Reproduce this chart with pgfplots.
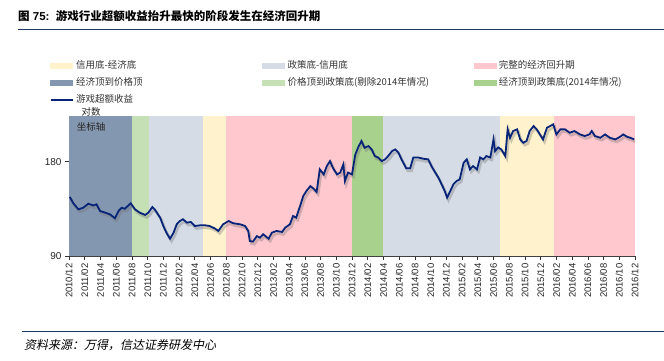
\documentclass[border=0pt]{standalone}
\usepackage{fontspec}
\setmainfont{Liberation Sans}
\newfontfamily\cjk{Noto Sans CJK SC}
\newfontfamily\cjkit[FakeSlant=0.2]{Noto Sans CJK SC}
\usepackage{pgfplots}
\usepackage{pgfplotstable}
\pgfplotsset{compat=1.18}
\definecolor{cYellow}{RGB}{255,242,204}
\definecolor{cGrayBlue}{RGB}{214,220,229}
\definecolor{cPink}{RGB}{255,199,206}
\definecolor{cDark}{RGB}{132,151,176}
\definecolor{cLGreen}{RGB}{197,224,180}
\definecolor{cGreen}{RGB}{169,209,142}
\definecolor{cLine}{RGB}{8,36,120}
\definecolor{cRule}{RGB}{31,56,100}

\pgfplotstableread{
m v
0.1 139
0.55 132.6
1.2 126.8
1.8 128.3
2.46 132.2
3.1 130.5
3.5 131.6
3.95 125.3
4.6 123.8
5.2 122.3
5.85 118.8
6.3 125.3
6.7 128.3
7.1 127.4
7.55 130.5
7.85 132.6
8.4 126.8
9.0 123.8
9.7 121.7
10.1 123.8
10.6 129
10.9 126.8
11.6 119.3
12.0 112.2
12.4 106.8
12.85 102.2
13.3 106.8
13.7 113.6
14.1 116.4
14.5 117.9
15.0 115.0
15.5 115.6
16.0 112.2
16.7 112.8
17.3 112.8
17.9 112.2
18.6 110
19.0 108.2
19.6 113.6
20.3 116.4
20.9 114.5
21.8 113.6
22.4 112.2
22.8 108.2
23.0 100.5
23.4 100
23.9 104.2
24.3 103
24.7 105.6
25.4 102.2
25.8 106.8
26.4 108.2
27.1 107.4
27.5 110.8
28.1 113.6
28.5 120.8
28.9 119.3
29.4 130
29.8 139.9
30.2 145.1
30.7 150.5
31.1 147.8
31.5 144.1
31.9 170.2
32.4 164
32.8 174.4
33.2 180.9
33.6 171.6
34.1 164
34.5 166.2
34.9 176.6
35.1 156.2
35.5 166.2
36.0 164
36.4 189
36.8 200.5
37.2 209.6
37.6 199.5
38.1 202
38.5 197.1
38.9 187.7
39.3 185.8
39.8 180.9
40.2 183.2
40.6 187.7
41.1 194.7
41.5 197.1
41.9 192.7
42.3 183.2
42.9 171.6
43.4 171.6
43.8 185.8
44.4 185.8
45.1 184
45.7 183.2
46.1 174.4
46.6 166.2
47.0 160
47.4 152.5
47.8 145.1
48.1 138.2
48.5 145.1
48.9 152.5
49.3 156.2
49.7 158.1
50.2 178.7
50.6 183.2
51.0 170.2
51.4 174.4
51.9 170.2
52.3 185.8
52.7 183.2
53.1 187.7
53.6 185.8
54.0 212.1
54.2 194.7
54.6 200
55.0 197
55.5 187.7
55.8 228.4
56.1 214.7
56.5 225.6
57.0 228.4
57.4 212.1
57.8 207
58.2 209.6
58.6 225.6
59.1 234
59.5 228.4
59.9 220.1
60.3 212.1
60.8 231.1
61.2 234
61.6 237
62.0 220.1
62.5 228.4
63.1 228.4
63.7 222.8
64.3 225.6
65.0 220.1
65.6 217.5
66.2 220.1
66.5 225.6
66.9 217.5
67.6 214.7
68.2 220.1
68.8 214.7
69.5 212.1
70.1 216.3
70.5 220.1
71.0 216.3
71.4 214.7
71.9 212.1
}\gamedata

\begin{document}
\begin{tikzpicture}
\useasboundingbox (0,0) rectangle (664pt,360pt);
% title
\node[anchor=west, inner sep=0pt] at (18pt,343.5pt) {\fontsize{11.5}{13}\selectfont\bfseries{\cjk 图} 75:\ \ {\cjk 游戏行业超额收益抬升最快的阶段发生在经济回升期}};
\draw[cRule, line width=1.8pt] (18pt,330.5pt) -- (664pt,330.5pt);
\draw[cRule, line width=1.8pt] (22pt,28.5pt) -- (664pt,28.5pt);
\node[anchor=west, inner sep=0pt] at (24pt,15pt) {\cjkit\fontsize{12}{14}\selectfont 资料来源：万得，信达证券研发中心};

\begin{axis}[
  at={(69pt,104pt)}, anchor=south west,
  scale only axis, width=566pt, height=140pt,
  xmin=0, xmax=72, ymode=log, ymin=90, ymax=252,
  ytick={90,180}, yticklabels={90,180},
  yminorticks=false,
  xtick={0,2,...,72},
  xticklabels={{2010/12},{2011/02},{2011/04},{2011/06},{2011/08},{2011/10},{2011/12},{2012/02},{2012/04},{2012/06},{2012/08},{2012/10},{2012/12},{2013/02},{2013/04},{2013/06},{2013/08},{2013/10},{2013/12},{2014/02},{2014/04},{2014/06},{2014/08},{2014/10},{2014/12},{2015/02},{2015/04},{2015/06},{2015/08},{2015/10},{2015/12},{2016/02},{2016/04},{2016/06},{2016/08},{2016/10},{2016/12}},
  axis x line*=bottom, axis y line*=left,
  axis line style={-, black!75, line width=0.8pt},
  tick align=outside, major tick length=4pt,
  tick style={black!80, line width=0.6pt},
  xticklabel style={rotate=90, anchor=east, font=\fontsize{9.5}{10}\selectfont, text=black!85},
  yticklabel style={font=\fontsize{10}{11}\selectfont, text=black!85},
  legend style={at={(axis description cs:-0.0336,1.418)}, anchor=north west, draw=none, fill=none, inner sep=0pt, outer sep=0pt,
    font=\cjk\fontsize{9.5}{11}\selectfont, text=black!80,
    /tikz/column sep=0pt, /tikz/row sep=0pt,
    /tikz/every even column/.append style={text width=183pt},
    nodes={inner xsep=3pt, inner ysep=4.25pt, text height=7pt, text depth=1.5pt}},
  legend columns=3, legend cell align=left,
]
% bands
\addplot[fill=cDark, draw=none, forget plot] coordinates {(0,90) (8.05,90) (8.05,252) (0,252)} -- cycle;
\addplot[fill=cLGreen, draw=none, forget plot] coordinates {(8.05,90) (10.2,90) (10.2,252) (8.05,252)} -- cycle;
\addplot[fill=cGrayBlue, draw=none, forget plot] coordinates {(10.2,90) (17.0,90) (17.0,252) (10.2,252)} -- cycle;
\addplot[fill=cYellow, draw=none, forget plot] coordinates {(17.0,90) (19.95,90) (19.95,252) (17.0,252)} -- cycle;
\addplot[fill=cPink, draw=none, forget plot] coordinates {(19.95,90) (35.97,90) (35.97,252) (19.95,252)} -- cycle;
\addplot[fill=cGreen, draw=none, forget plot] coordinates {(35.97,90) (39.9,90) (39.9,252) (35.97,252)} -- cycle;
\addplot[fill=cGrayBlue, draw=none, forget plot] coordinates {(39.9,90) (54.85,90) (54.85,252) (39.9,252)} -- cycle;
\addplot[fill=cYellow, draw=none, forget plot] coordinates {(54.85,90) (61.75,90) (61.75,252) (54.85,252)} -- cycle;
\addplot[fill=cPink, draw=none, forget plot] coordinates {(61.75,90) (72,90) (72,252) (61.75,252)} -- cycle;
% line with shadow
\addplot[black!55, opacity=0.35, line width=2.6pt, xshift=1.5pt, yshift=-2.5pt, forget plot] table[x index=0, y index=1] {\gamedata};
\addplot[cLine, line width=1.8pt, forget plot] table[x index=0, y index=1] {\gamedata};
% legend
\addlegendimage{legend image code/.code={\fill[cYellow] (0pt,-2.3pt) rectangle (22pt,2.3pt);}}
\addlegendentry{信用底-经济底}
\addlegendimage{legend image code/.code={\fill[cGrayBlue] (0pt,-2.3pt) rectangle (22pt,2.3pt);}}
\addlegendentry{政策底-信用底}
\addlegendimage{legend image code/.code={\fill[cPink] (0pt,-2.3pt) rectangle (22pt,2.3pt);}}
\addlegendentry{完整的经济回升期}
\addlegendimage{legend image code/.code={\fill[cDark] (0pt,-2.3pt) rectangle (22pt,2.3pt);}}
\addlegendentry{经济顶到价格顶}
\addlegendimage{legend image code/.code={\fill[cLGreen] (0pt,-2.3pt) rectangle (22pt,2.3pt);}}
\addlegendentry{价格顶到政策底(剔除2014年情况)}
\addlegendimage{legend image code/.code={\fill[cGreen] (0pt,-2.3pt) rectangle (22pt,2.3pt);}}
\addlegendentry{经济顶到政策底(2014年情况)}
\addlegendimage{legend image code/.code={\draw[cLine, line width=1.2pt] (0pt,0pt) -- (22pt,0pt);}}
\addlegendentry{游戏超额收益}
\end{axis}
\node[inner sep=0pt, font=\cjk\fontsize{9.5}{11}\selectfont, text=black!85] at (91pt,248pt) {对数};
\node[inner sep=0pt, font=\cjk\fontsize{9.5}{11}\selectfont, text=black!85] at (91pt,233pt) {坐标轴};
\end{tikzpicture}
\end{document}
